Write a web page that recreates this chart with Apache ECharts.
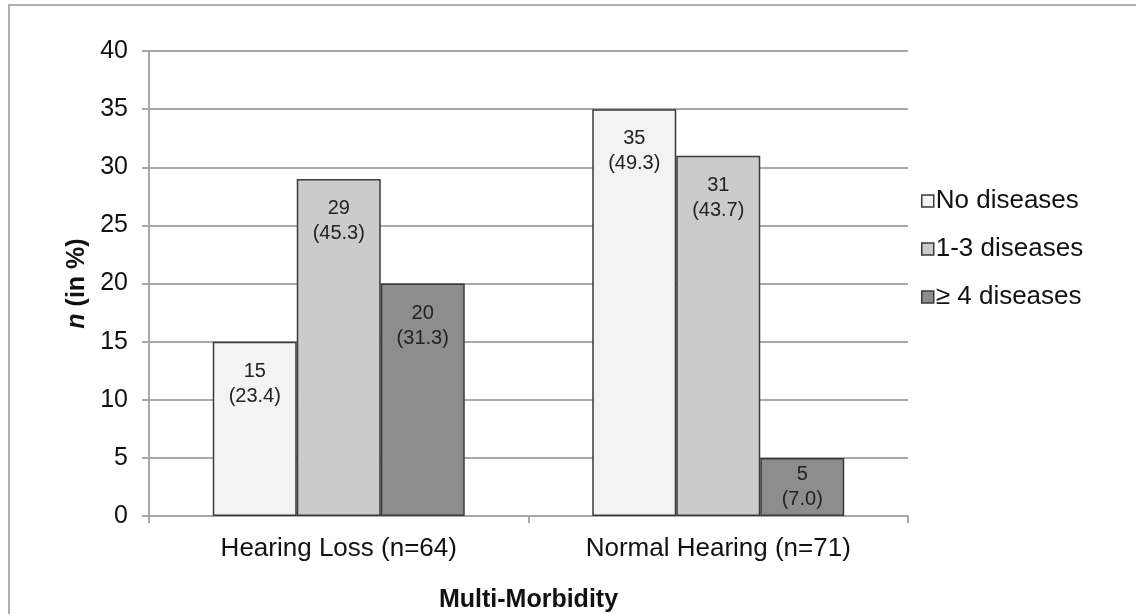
<!DOCTYPE html>
<html>
<head>
<meta charset="utf-8">
<script src="https://cdn.jsdelivr.net/npm/echarts@6/dist/echarts.min.js"></script>
<style>
  html, body { margin: 0; padding: 0; background: #fff; }
  #chart { width: 1136px; height: 614px; }
</style>
</head>
<body>
<div id="chart"></div>
<script>
// Groups on the x axis
const categories = ['Hearing Loss (n=64)', 'Normal Hearing (n=71)'];
// Series names (legend)
const seriesNames = ['No diseases', '1-3 diseases', '\u2265 4 diseases'];
// Counts per group, one array per series
const noDiseases = [15, 35];
const oneToThree = [29, 31];
const fourPlus = [20, 5];
// Percentages shown under each count
const noDiseasesPct = ['23.4', '49.3'];
const oneToThreePct = ['45.3', '43.7'];
const fourPlusPct = ['31.3', '7.0'];
// Y axis ticks
const yTicks = [0, 5, 10, 15, 20, 25, 30, 35, 40];

const FONT = 'Liberation Sans, Arial, Helvetica, sans-serif';
const fills = ['#f3f3f3', '#cbcbcb', '#8d8d8d'];

// Bars too short to hold a two-line label near their top get it centred instead
function makeData(values) {
  return values.map(v => v < 8
    ? { value: v, label: { position: 'inside', distance: 0 } }
    : v);
}

function makeSeries(name, values, pcts, fill) {
  return {
    name: name,
    type: 'bar',
    data: makeData(values),
    barGap: '0%',
    barCategoryGap: '33.6%',
    itemStyle: { color: fill, borderColor: '#3a3a3a', borderWidth: 1.5 },
    label: {
      show: true,
      position: 'insideTop',
      distance: 17,
      color: '#222',
      fontFamily: FONT,
      fontSize: 20,
      lineHeight: 25,
      formatter: p => p.value + '\n(' + pcts[p.dataIndex] + ')'
    },
    emphasis: { disabled: true }
  };
}

const chart = echarts.init(document.getElementById('chart'), null, { renderer: 'canvas' });
chart.setOption({
  animation: false,
  backgroundColor: '#fff',
  graphic: [{
    type: 'rect',
    shape: { x: 9, y: 5, width: 1200, height: 700 },
    style: { fill: 'none', stroke: '#b0b0b0', lineWidth: 2 },
    silent: true
  }],
  grid: { left: 149, right: 228, top: 51, bottom: 98, containLabel: false, outerBoundsMode: 'none' },
  legend: {
    orient: 'vertical',
    left: 916,
    top: 182,
    itemWidth: 12,
    itemHeight: 12,
    itemGap: 20,
    icon: 'rect',
    data: seriesNames,
    itemStyle: { borderColor: '#3a3a3a', borderWidth: 1.5 },
    textStyle: { fontFamily: FONT, fontSize: 26, lineHeight: 28, color: '#111', padding: [0, 0, 0, -3] }
  },
  xAxis: {
    type: 'category',
    data: categories,
    name: 'Multi-Morbidity',
    nameLocation: 'middle',
    nameGap: 72,
    nameTextStyle: { fontFamily: FONT, fontSize: 25, fontWeight: 'bold', color: '#111' },
    axisLine: { lineStyle: { color: '#a8a8a8', width: 2 } },
    axisTick: { show: true, length: 7, lineStyle: { color: '#a8a8a8', width: 2 } },
    axisLabel: { fontFamily: FONT, fontSize: 26, color: '#111', margin: 20 }
  },
  yAxis: {
    type: 'value',
    min: yTicks[0],
    max: yTicks[yTicks.length - 1],
    interval: 5,
    name: '{i|n} (in %)',
    nameLocation: 'middle',
    nameGap: 56,
    nameRotate: 90,
    nameTextStyle: {
      fontFamily: FONT, fontSize: 25, fontWeight: 'bold', color: '#111',
      rich: { i: { fontFamily: FONT, fontSize: 25, fontWeight: 'bold', fontStyle: 'italic', color: '#111' } }
    },
    axisLine: { show: true, lineStyle: { color: '#a8a8a8', width: 2 } },
    axisTick: { show: true, length: 7, lineStyle: { color: '#a8a8a8', width: 2 } },
    axisLabel: { fontFamily: FONT, fontSize: 25, color: '#111', margin: 21 },
    splitLine: { show: true, lineStyle: { color: '#a8a8a8', width: 2 } }
  },
  series: [
    makeSeries(seriesNames[0], noDiseases, noDiseasesPct, fills[0]),
    makeSeries(seriesNames[1], oneToThree, oneToThreePct, fills[1]),
    makeSeries(seriesNames[2], fourPlus, fourPlusPct, fills[2])
  ]
});
</script>
</body>
</html>
